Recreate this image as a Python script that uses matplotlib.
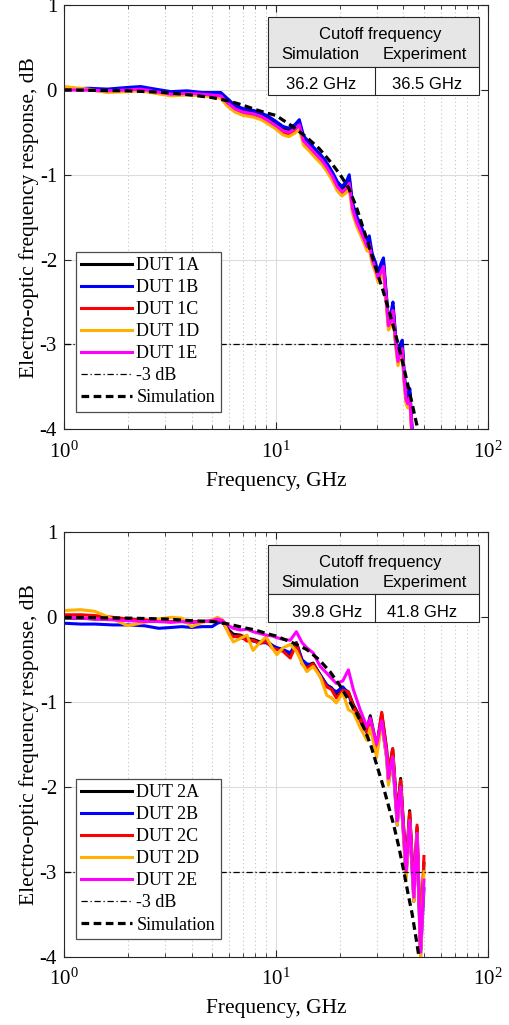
import matplotlib
matplotlib.use("Agg")
import matplotlib.pyplot as plt
from matplotlib.patches import Rectangle
from matplotlib.ticker import LogLocator, FixedLocator, NullLocator

# ---- data ----
freq_top = [1, 1.3, 1.6, 2.0, 2.3, 2.7, 3.2, 3.8, 4.5, 5.0, 5.5, 5.9, 6.4, 7.0, 7.8, 8.5, 9.2, 10,
            10.8, 11.5, 12.3, 12.9, 13.5, 14.5, 15.5, 16.5, 17.5, 18.5, 19.5, 20.5, 21.5, 22.2, 23,
            24, 25, 26, 27, 27.6, 28.5, 29.5, 30.4, 31.3, 32.2, 33, 34, 35, 35.7, 36.7, 37.7, 38.6,
            39.5, 40.3, 41.2, 42, 42.9, 44, 45]
dut_1a = [0.0, 0.01, 0.0, 0.02, 0.02, 0.0, -0.03, -0.02, -0.04, -0.04, -0.05,
          -0.12, -0.20, -0.24, -0.26, -0.29, -0.33, -0.39, -0.45, -0.47, -0.43, -0.38,
          -0.57, -0.65, -0.73, -0.80, -0.89, -0.99, -1.11, -1.17, -1.12, -1.05,
          -1.36, -1.51, -1.61, -1.71, -1.81, -1.77, -1.96, -2.06, -2.18, -2.10,
          -2.03, -2.36, -2.74, -2.67, -2.55, -2.91, -3.16, -3.05, -3.00, -3.36,
          -3.61, -3.65, -3.57, -4.05, -4.38]
dut_1b = [0.01, 0.02, 0.01, 0.03, 0.04, 0.01, -0.02, -0.01, -0.03, -0.03, -0.03,
          -0.10, -0.18, -0.22, -0.24, -0.27, -0.31, -0.37, -0.43, -0.45, -0.41, -0.35,
          -0.54, -0.63, -0.71, -0.78, -0.87, -0.97, -1.08, -1.14, -1.08, -1.00,
          -1.33, -1.48, -1.58, -1.68, -1.78, -1.72, -1.93, -2.03, -2.15, -2.05,
          -1.98, -2.32, -2.70, -2.62, -2.50, -2.88, -3.12, -3.00, -2.95, -3.32,
          -3.58, -3.60, -3.52, -4.00, -4.35]
dut_1c = [0.01, 0.0, -0.02, -0.01, 0.0, -0.03, -0.06, -0.05, -0.06, -0.07, -0.08,
          -0.17, -0.24, -0.28, -0.30, -0.33, -0.38, -0.44, -0.50, -0.52, -0.48, -0.43,
          -0.62, -0.70, -0.78, -0.85, -0.94, -1.04, -1.16, -1.22, -1.18, -1.13,
          -1.42, -1.57, -1.67, -1.77, -1.87, -1.85, -2.02, -2.12, -2.24, -2.18,
          -2.11, -2.42, -2.80, -2.75, -2.63, -2.97, -3.22, -3.13, -3.08, -3.42,
          -3.67, -3.72, -3.65, -4.12, -4.42]
dut_1d = [0.04, 0.01, -0.03, -0.02, -0.01, -0.04, -0.07, -0.06, -0.07, -0.08, -0.10,
          -0.19, -0.26, -0.30, -0.32, -0.35, -0.40, -0.46, -0.53, -0.55, -0.51, -0.46,
          -0.65, -0.73, -0.81, -0.88, -0.97, -1.07, -1.19, -1.25, -1.21, -1.16,
          -1.45, -1.60, -1.70, -1.80, -1.90, -1.88, -2.05, -2.15, -2.27, -2.21,
          -2.14, -2.45, -2.83, -2.78, -2.66, -3.00, -3.25, -3.16, -3.11, -3.45,
          -3.70, -3.75, -3.68, -4.15, -4.45]
dut_1e = [0.0, 0.0, -0.01, 0.0, 0.01, -0.02, -0.05, -0.04, -0.05, -0.06, -0.07,
          -0.15, -0.22, -0.26, -0.28, -0.31, -0.36, -0.42, -0.48, -0.50, -0.46, -0.41,
          -0.60, -0.68, -0.76, -0.83, -0.92, -1.02, -1.14, -1.20, -1.16, -1.10,
          -1.40, -1.55, -1.65, -1.75, -1.85, -1.82, -2.00, -2.10, -2.22, -2.15,
          -2.08, -2.40, -2.78, -2.72, -2.60, -2.95, -3.20, -3.10, -3.05, -3.40,
          -3.65, -3.70, -3.62, -4.10, -4.40]

freq_bot = [1, 1.2, 1.4, 1.7, 2.0, 2.4, 2.8, 3.2, 3.6, 4.0, 4.5, 5.0, 5.3, 5.6, 6.0, 6.3, 6.8,
            7.3, 7.8, 8.4, 9.0, 9.6, 10.1, 10.8, 11.7, 12.5, 13.3, 14, 15, 16.2, 17.4, 18.3,
            19.3, 20.7, 22, 23.2, 25, 26.9, 27.9, 29.9, 31.6, 33.3, 34.0, 35.6, 37.4, 38.8,
            41.2, 42.8, 44.8, 46.4, 48.2, 50]
dut_2a = [-0.01, -0.01, -0.02, -0.02, -0.03, -0.04, -0.05, -0.05, -0.05, -0.06,
          -0.05, -0.05, -0.03, -0.04, -0.15, -0.20, -0.21, -0.25, -0.26, -0.29,
          -0.27, -0.33, -0.36, -0.38, -0.45, -0.30, -0.52, -0.57, -0.54, -0.68,
          -0.80, -0.83, -0.92, -0.84, -0.88, -1.03, -1.18, -1.32, -1.16, -1.52,
          -1.14, -1.55, -1.85, -1.55, -2.33, -1.90, -2.95, -2.28, -3.22, -2.48,
          -3.92, -2.90]
dut_2b = [-0.07, -0.08, -0.08, -0.09, -0.09, -0.10, -0.13, -0.12, -0.11, -0.12,
          -0.11, -0.11, -0.07, -0.05, -0.17, -0.22, -0.24, -0.26, -0.28, -0.30,
          -0.30, -0.34, -0.36, -0.38, -0.42, -0.30, -0.50, -0.55, -0.56, -0.68,
          -0.80, -0.84, -0.88, -0.82, -0.90, -1.08, -1.22, -1.36, -1.25, -1.58,
          -1.25, -1.65, -1.95, -1.70, -2.45, -2.05, -3.05, -2.45, -3.35, -2.60,
          -4.00, -3.20]
dut_2c = [0.03, 0.03, 0.02, 0.0, -0.02, -0.03, -0.04, -0.05, -0.04, -0.05,
          -0.05, -0.04, -0.03, -0.05, -0.18, -0.23, -0.22, -0.28, -0.27, -0.31,
          -0.28, -0.36, -0.38, -0.40, -0.48, -0.31, -0.55, -0.60, -0.55, -0.70,
          -0.82, -0.85, -0.95, -0.86, -0.88, -1.05, -1.20, -1.35, -1.20, -1.55,
          -1.12, -1.55, -1.85, -1.55, -2.35, -1.92, -2.95, -2.30, -3.25, -2.45,
          -3.90, -2.82]
dut_2d = [0.08, 0.09, 0.07, -0.02, -0.10, -0.06, -0.02, 0.0, -0.01, -0.11,
          -0.06, -0.03, 0.0, -0.03, -0.20, -0.29, -0.25, -0.21, -0.39, -0.30,
          -0.23, -0.36, -0.44, -0.36, -0.32, -0.40, -0.54, -0.64, -0.58, -0.70,
          -0.92, -0.95, -1.01, -0.89, -1.09, -1.12, -1.30, -1.45, -1.30, -1.65,
          -1.25, -1.65, -1.98, -1.65, -2.45, -2.02, -3.10, -2.40, -3.35, -2.55,
          -4.05, -3.00]
dut_2e = [0.0, -0.01, -0.02, -0.03, -0.04, -0.05, -0.05, -0.06, -0.05, -0.06,
          -0.05, -0.04, -0.02, -0.04, -0.10, -0.13, -0.15, -0.14, -0.17, -0.19,
          -0.21, -0.22, -0.24, -0.26, -0.27, -0.17, -0.30, -0.36, -0.42, -0.58,
          -0.66, -0.72, -0.78, -0.75, -0.62, -0.85, -1.09, -1.29, -1.19, -1.50,
          -1.22, -1.60, -1.90, -1.65, -2.40, -2.00, -3.00, -2.40, -3.30, -2.55,
          -3.95, -3.10]

sim_freq = [1, 2, 3, 4, 5, 6, 7, 8, 9, 10, 12, 14, 16, 18, 20, 22, 24, 26, 28, 30, 32, 34,
            36, 38, 40, 42, 44, 46, 47, 48]
sim_top = [0.0, -0.01, -0.03, -0.06, -0.09, -0.13, -0.18, -0.23, -0.27, -0.30, -0.43, -0.56,
           -0.69, -0.84, -0.99, -1.15, -1.38, -1.65, -1.90, -2.14, -2.36, -2.58, -2.80,
           -3.02, -3.25, -3.48, -3.70, -3.92, -4.02, -4.12]
sim_bot = [0.0, -0.01, -0.02, -0.04, -0.05, -0.08, -0.12, -0.15, -0.19, -0.22, -0.30, -0.38,
           -0.50, -0.64, -0.80, -0.97, -1.13, -1.30, -1.50, -1.75, -1.98, -2.22, -2.45,
           -2.70, -2.97, -3.25, -3.50, -3.80, -3.95, -4.10]

labels_top = ["DUT 1A", "DUT 1B", "DUT 1C", "DUT 1D", "DUT 1E"]
labels_bot = ["DUT 2A", "DUT 2B", "DUT 2C", "DUT 2D", "DUT 2E"]
cutoff_sim = ["36.2 GHz", "39.8 GHz"]
cutoff_exp = ["36.5 GHz", "41.8 GHz"]
threshold_db = -3

colors = ["black", "#0000ff", "#ff0000", "#ffb000", "#ff00ff"]

plt.rcParams["font.family"] = "Liberation Serif"
plt.rcParams["mathtext.fontset"] = "custom"
plt.rcParams["mathtext.rm"] = "Liberation Serif"
plt.rcParams["axes.unicode_minus"] = False


def draw_table(ax, sim_txt, exp_txt, xs_sim, xs_exp):
    x0, x1, xm = 0.482, 0.980, 0.733
    yt, ym, yb = 0.9715, 0.855, 0.788
    kw = dict(transform=ax.transAxes, zorder=10, clip_on=False)
    ax.add_patch(Rectangle((x0, ym), x1 - x0, yt - ym, facecolor="#e6e6e6",
                           edgecolor="0.15", lw=0.8, **kw))
    ax.add_patch(Rectangle((x0, yb), x1 - x0, ym - yb, facecolor="white",
                           edgecolor="0.15", lw=0.8, **kw))
    ax.plot([xm, xm], [yb, ym], color="0.15", lw=0.8, **kw)
    tkw = dict(transform=ax.transAxes, zorder=11, family="Liberation Sans",
               fontsize=12, ha="center", va="center")
    ax.text(0.746, 0.930, "Cutoff frequency", **tkw)
    ax.text(0.604, 0.883, "Simulation", **tkw)
    ax.text(0.852, 0.883, "Experiment", **tkw)
    ax.text(xs_sim, 0.812, sim_txt, **tkw)
    ax.text(xs_exp, 0.812, exp_txt, **tkw)


def draw_panel(ax, freq, curves, labels, sim_db, sim_txt, exp_txt, xs_sim, xs_exp):
    for vals, c, lab in zip(curves, colors, labels):
        ax.plot(freq, vals, color=c, lw=2.2, label=lab, solid_joinstyle="round")
    ax.axhline(threshold_db, color="black", lw=0.9, ls=(0, (5, 2.2, 1, 2.2)), label="-3 dB")
    ax.plot(sim_freq, sim_db, color="black", lw=2.3, ls=(0, (2.4, 1.4)), label="Simulation")

    ax.set_xscale("log")
    ax.set_xlim(1, 100)
    ax.set_ylim(-4, 1)
    ax.yaxis.set_major_locator(FixedLocator([-4, -3, -2, -1, 0, 1]))
    ax.yaxis.set_minor_locator(NullLocator())
    ax.xaxis.set_major_locator(LogLocator(base=10))
    ax.xaxis.set_minor_locator(LogLocator(base=10, subs=range(2, 10)))

    ax.set_axisbelow(True)
    ax.grid(which="major", color="#dcdcdc", lw=0.8)
    ax.grid(which="minor", axis="x", color="#c4c4c4", lw=0.8, ls=(0, (1, 2.5)))
    for s in ax.spines.values():
        s.set_color("0.15")
        s.set_linewidth(0.8)
    ax.tick_params(which="both", direction="in", top=True, right=True, color="0.15")
    ax.tick_params(which="major", length=5, labelsize=15, pad=5)
    ax.tick_params(which="minor", length=3)
    ax.tick_params(axis="x", which="major", pad=9)

    ax.set_xlabel("Frequency, GHz", fontsize=15.5)
    ax.set_ylabel("Electro-optic frequency response, dB", fontsize=15.5)
    ax.xaxis.set_label_coords(0.5, -0.10)
    ax.yaxis.set_label_coords(-0.058, 0.5)

    leg = ax.legend(loc="lower left", bbox_to_anchor=(0.028, 0.0415), borderaxespad=0,
                    fontsize=13, frameon=True, fancybox=False, framealpha=1,
                    edgecolor="0.3", handlelength=2.8, handletextpad=0.25,
                    labelspacing=0.28, borderpad=0.3)
    leg.get_frame().set_linewidth(0.9)

    draw_table(ax, sim_txt, exp_txt, xs_sim, xs_exp)


fig = plt.figure(figsize=(5.1, 10.25), dpi=100)
ax1 = fig.add_axes([0.1255, 0.5812, 0.8308, 0.4138])
ax2 = fig.add_axes([0.1255, 0.0668, 0.8308, 0.4137])

draw_panel(ax1, freq_top, [dut_1a, dut_1b, dut_1c, dut_1d, dut_1e], labels_top, sim_top,
           cutoff_sim[0], cutoff_exp[0], 0.608, 0.858)
draw_panel(ax2, freq_bot, [dut_2a, dut_2b, dut_2c, dut_2d, dut_2e], labels_bot, sim_bot,
           cutoff_sim[1], cutoff_exp[1], 0.620, 0.844)

fig.savefig("out.png", dpi=100)
